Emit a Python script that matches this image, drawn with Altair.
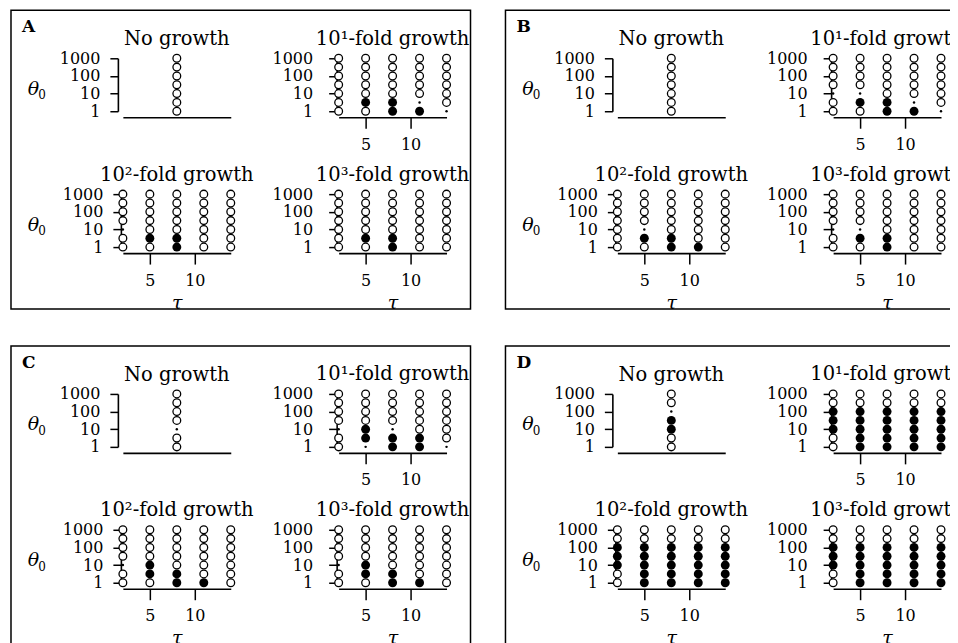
import altair as alt
import pandas as pd

# ---------------- data ----------------
panel_letters = ["A", "B", "C", "D"]
growth_titles = ["No growth", "10¹-fold growth", "10²-fold growth", "10³-fold growth"]
tau_values = [2, 5, 8, 11, 14]
tau_no_growth = [8]
theta_values = [1, 3.16, 10, 31.6, 100, 316, 1000]
y_ticks = [1, 10, 100, 1000]
x_ticks = [5, 10]

# outcome per column, from theta0 = 1 (bottom) up to 1000 (top)
# o = open circle, f = filled circle, d = small dot
panel_A = [
    ["ooooooo"],
    ["ooooooo", "ofooooo", "ffooooo", "fdooooo", "doooooo"],
    ["oodoooo", "ofooooo", "ffooooo", "ooooooo", "ooooooo"],
    ["ooooooo", "ofooooo", "ffooooo", "ooooooo", "ooooooo"],
]
panel_B = [
    ["ooooooo"],
    ["oodoooo", "ofdoooo", "ffooooo", "fdooooo", "doooooo"],
    ["ooooooo", "ofdoooo", "ffooooo", "foooooo", "ooooooo"],
    ["oodoooo", "ofdoooo", "ffooooo", "ooooooo", "ooooooo"],
]
panel_C = [
    ["oodoooo"],
    ["oodoooo", "dffoooo", "ffdoooo", "ffooooo", "doooooo"],
    ["oodoooo", "offoooo", "ffooooo", "foooooo", "ooooooo"],
    ["oodoooo", "offoooo", "ffooooo", "foooooo", "ooooooo"],
]
panel_D = [
    ["ooffdoo"],
    ["oofffoo", "fffffoo", "fffffoo", "fffffoo", "fffffoo"],
    ["oofffoo", "fffffoo", "fffffoo", "fffffoo", "fffffoo"],
    ["oofffoo", "fffffoo", "fffffoo", "fffffoo", "fffffoo"],
]
panels = [panel_A, panel_B, panel_C, panel_D]

SERIF = "DejaVu Serif"
W, H = 108, 53


def make_sub(p, s):
    codes = panels[p][s]
    taus = tau_no_growth if s == 0 else tau_values
    rows = []
    for tau, col in zip(taus, codes):
        for theta, code in zip(theta_values, col):
            rows.append({"tau": tau, "theta": theta, "code": code})
    df = pd.DataFrame(rows)

    left = s in (0, 2)
    bottom = s in (2, 3)
    yoff = 5 if s == 0 else 2

    if s == 0:
        xaxis = alt.Axis(ticks=False, labels=False, title=None, offset=6, grid=False)
    else:
        xaxis = alt.Axis(values=x_ticks, tickSize=11, labelPadding=8, offset=6, grid=False,
                         title="τ" if bottom else None, titleFontStyle="italic",
                         titleFontSize=19, titleFontWeight="normal", titleFont=SERIF,
                         titlePadding=5)
    yaxis = alt.Axis(values=y_ticks, format="d", tickSize=8,
                     labelPadding=10 if left else 16,
                     offset=yoff, grid=False, labelOverlap=False,
                     title="θ" if left else None, titleAngle=0, titleAlign="center",
                     titleBaseline="middle", titleFont=SERIF, titleFontSize=19,
                     titleFontStyle="italic", titleFontWeight="normal",
                     titleX=-90 + yoff, titleY=30)

    base = alt.Chart(df).encode(
        x=alt.X("tau:Q", scale=alt.Scale(domain=[2, 14], nice=False, zero=False), axis=xaxis),
        y=alt.Y("theta:Q", scale=alt.Scale(type="log", domain=[1, 1000], nice=False), axis=yaxis),
    )
    open_c = base.transform_filter(alt.datum.code == "o").mark_point(
        shape="circle", filled=True, fill="white", stroke="black", strokeWidth=1.3,
        size=60, opacity=1)
    fill_c = base.transform_filter(alt.datum.code == "f").mark_point(
        shape="circle", filled=True, color="black", size=80, opacity=1)
    dot_c = base.transform_filter(alt.datum.code == "d").mark_point(
        shape="circle", filled=True, color="black", size=6, opacity=1)
    layers = [open_c, fill_c, dot_c]

    one = pd.DataFrame({"k": [0]})
    if left:
        sub0 = alt.Chart(one).mark_text(
            text="0", align="center", baseline="middle", font=SERIF, fontSize=12,
            color="black").encode(x=alt.value(-81), y=alt.value(37))
        layers = [sub0] + layers
    if s == 0:
        frame = alt.Chart(one).mark_rect(fill=None, stroke="black", strokeWidth=1.5).encode(
            x=alt.value(-112), x2=alt.value(348), y=alt.value(-48), y2=alt.value(251))
        letter = alt.Chart(one).mark_text(
            text=panel_letters[p], align="left", baseline="alphabetic", font=SERIF,
            fontSize=17, fontWeight="bold", color="black").encode(
            x=alt.value(-101), y=alt.value(-26))
        layers = [frame, letter] + layers

    title_kw = dict(font=SERIF, fontSize=19.5, fontWeight="normal", color="black",
                    offset=1, anchor="middle", frame="group")
    if s == 0:
        # the frame drawn in this view raises its bounds; bring the title back down
        title_kw["dy"] = 41
    return alt.layer(*layers).properties(
        width=W, height=H,
        title=alt.TitleParams(growth_titles[s], **title_kw),
    )


def make_panel(p):
    subs = [make_sub(p, s) for s in range(4)]
    r1 = alt.hconcat(subs[0], subs[1], spacing=108, bounds="flush")
    r2 = alt.hconcat(subs[2], subs[3], spacing=108, bounds="flush")
    return alt.vconcat(r1, r2, spacing=136, bounds="flush")


top = alt.hconcat(make_panel(0), make_panel(1), spacing=495, bounds="flush")
bot = alt.hconcat(make_panel(2), make_panel(3), spacing=495, bounds="flush")
chart = alt.vconcat(top, bot, spacing=336, bounds="flush").properties(
    padding={"left": 2, "top": 1, "right": -16, "bottom": 0}
).configure_view(stroke=None).configure_axis(
    domainColor="black", domainWidth=1.6, tickColor="black", tickWidth=1.5,
    labelFont=SERIF, labelFontSize=16, labelColor="black", grid=False,
    titleColor="black",
)

chart.save("out.html", embed_options={"renderer": "svg", "actions": False})
